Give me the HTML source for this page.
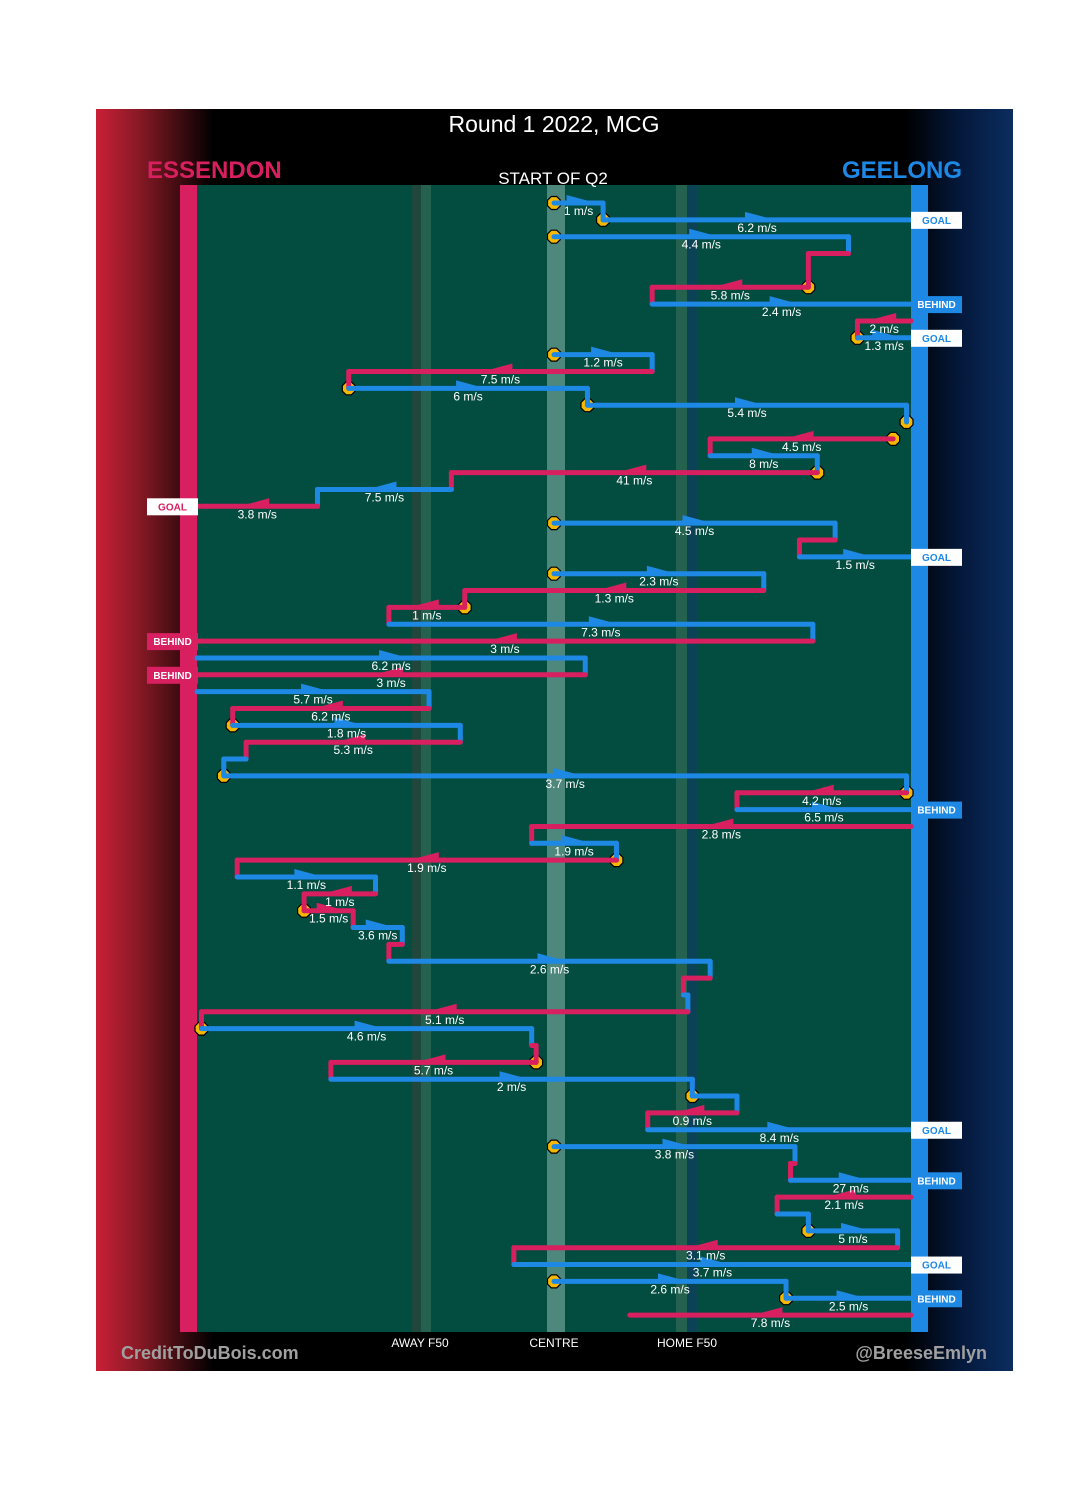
<!DOCTYPE html>
<html><head><meta charset="utf-8">
<style>
html,body{margin:0;padding:0;background:#fff;}
body{width:1080px;height:1495px;position:relative;overflow:hidden;font-family:"Liberation Sans Narrow","Liberation Sans",sans-serif;}
svg{position:absolute;left:0;top:0;}
</style></head>
<body>
<svg id="chart" width="1080" height="1495" viewBox="0 0 1080 1495" xmlns="http://www.w3.org/2000/svg">
<defs>
<linearGradient id="lg" x1="0" x2="1" y1="0" y2="0">
<stop offset="0" stop-color="#c91f37"/><stop offset="0.35" stop-color="#8a1a26"/><stop offset="1" stop-color="#000"/>
</linearGradient>
<linearGradient id="rg" x1="0" x2="1" y1="0" y2="0">
<stop offset="0" stop-color="#000"/><stop offset="0.5" stop-color="#04183a"/><stop offset="1" stop-color="#0b2d5f"/>
</linearGradient>
</defs>
<rect x="96" y="109" width="917" height="1262" fill="#000"/>
<rect x="96" y="109" width="118" height="1262" fill="url(#lg)"/>
<rect x="905" y="109" width="108" height="1262" fill="url(#rg)"/>
<rect x="197" y="185" width="714" height="1147" fill="#034d40"/>
<rect x="412" y="185" width="9" height="1147" fill="#1f473b"/>
<rect x="421" y="185" width="10" height="1147" fill="#24614f"/>
<rect x="547" y="185" width="18" height="1147" fill="#4e877b"/>
<rect x="676" y="185" width="11" height="1147" fill="#24614f"/>
<rect x="687" y="185" width="10" height="1147" fill="#0b4256"/>
<rect x="180" y="185" width="17" height="1147" fill="#d81f5f"/>
<rect x="911" y="185" width="17" height="1147" fill="#1e88e5"/>
<text x="554" y="132" text-anchor="middle" fill="#fff" font-size="23">Round 1 2022, MCG</text>
<text x="147" y="178" fill="#d81f5f" font-size="24" font-weight="bold">ESSENDON</text>
<text x="962" y="178" text-anchor="end" fill="#1e88e5" font-size="24" font-weight="bold">GEELONG</text>
<text x="553" y="184" text-anchor="middle" fill="#fff" font-size="17">START OF Q2</text>
<text x="420" y="1347" text-anchor="middle" fill="#fff" font-size="12">AWAY F50</text>
<text x="554" y="1347" text-anchor="middle" fill="#fff" font-size="12">CENTRE</text>
<text x="687" y="1347" text-anchor="middle" fill="#fff" font-size="12">HOME F50</text>
<text x="121" y="1359" fill="#a0a0a0" font-size="18" font-weight="bold">CreditToDuBois.com</text>
<text x="987" y="1359" text-anchor="end" fill="#a0a0a0" font-size="18" font-weight="bold">@BreeseEmlyn</text>
<g id="marks"></g>
</svg>
<script>
// field position in metres from Essendon goal (0) to Geelong goal (160)
const teams  = ["B","B","B","E","B","E","B","E","B","B","E","B","B","B","E","B","E","B","E","B","E","B","B","E","E","B","E","B","E","B","E","B","E","B","B","E","B","E","B","E","B","E","E","B","E","B","E","B","E","B","E","E","B","B","E","B","B","E","B","E","B","B","E","B","B","B","E"];
const rows   = [0,1,2,3,null,5,6,7,8,9,10,11,12,13,14,15,16,17,18,19,20,21,22,23,24,25,26,27,28,29,30,31,32,33,34,35,36,37,38,39,40,41,42,43,44,45,46,47,48,49,50,51,52,53,54,55,56,57,58,59,60,61,62,63,64,65,66];
const fromM  = [80,91,80,146,0,137,102,160,148,80,102,34,87.5,159,156,115,139,57,27,80,143,135,80,127,60,43,138,0,87,0,52,8,59,11,6,159,121,160,75,94,9,40,24,35,46,43,115,109,110,1,75,76,30,111,121,101,80,134,133,160,130,137,157,71,80,132,160];
const toM    = [91,160,146,137,0,102,160,148,160,102,34,87.5,159,159,115,139,57,27,0,143,135,160,127,60,43,138,0,87,0,52,8,59,11,6,159,121,160,75,94,9,40,24,35,46,43,115,109,110,1,75,76,30,111,121,101,160,134,133,160,130,137,157,71,160,132,160,97];
const speeds = ["1 m/s","6.2 m/s","4.4 m/s","","","5.8 m/s","2.4 m/s","2 m/s","1.3 m/s","1.2 m/s","7.5 m/s","6 m/s","5.4 m/s","","4.5 m/s","8 m/s","41 m/s","7.5 m/s","3.8 m/s","4.5 m/s","","1.5 m/s","2.3 m/s","1.3 m/s","1 m/s","7.3 m/s","3 m/s","6.2 m/s","3 m/s","5.7 m/s","6.2 m/s","1.8 m/s","5.3 m/s","","3.7 m/s","4.2 m/s","6.5 m/s","2.8 m/s","1.9 m/s","1.9 m/s","1.1 m/s","1 m/s","1.5 m/s","3.6 m/s","","2.6 m/s","","","5.1 m/s","4.6 m/s","","5.7 m/s","2 m/s","","0.9 m/s","8.4 m/s","3.8 m/s","","27 m/s","2.1 m/s","","5 m/s","3.1 m/s","3.7 m/s","2.6 m/s","2.5 m/s","7.8 m/s"];
const stoppage = [1,1,1,0,0,1,0,0,1,1,0,1,1,1,1,0,1,0,0,1,0,0,1,0,1,0,0,0,0,0,0,1,0,0,1,1,0,0,0,1,0,0,1,0,0,0,0,0,0,1,0,1,0,1,0,0,1,0,0,0,0,1,0,0,1,1,0];
const outcomes = ["","GOAL","","","","","BEHIND","","GOAL","","","","","","","","","","GOAL","","","GOAL","","","","","BEHIND","","BEHIND","","","","","","","","BEHIND","","","","","","","","","","","","","","","","","","","GOAL","","","BEHIND","","","","","GOAL","","BEHIND",""];

const X = m => 197 + m * (714 / 160);
const Y = r => 203 + r * 16.85;
const COL = {E:"#d81f5f", B:"#1e88e5"};
const NS = "http://www.w3.org/2000/svg";
const g = document.getElementById("marks");
function mk(tag, attrs){ const e=document.createElementNS(NS,tag); for(const k in attrs) e.setAttribute(k,attrs[k]); return e; }

const lineLayer = mk("g",{}); const markerLayer = mk("g",{}); const textLayer = mk("g",{});
g.appendChild(markerLayer); g.appendChild(lineLayer); g.appendChild(textLayer);

for (let i=0;i<teams.length;i++){
  if (rows[i]===null) continue;
  const y = Y(rows[i]), x1 = X(fromM[i]), x2 = X(toM[i]), c = COL[teams[i]];
  if (stoppage[i]){
    const r=7, pts=[];
    for(let k=0;k<8;k++){ const a=Math.PI/8+k*Math.PI/4; pts.push((x1+r*Math.cos(a)).toFixed(1)+","+(y+r*Math.sin(a)).toFixed(1)); }
    const oct = mk("polygon",{points:pts.join(" "),fill:"#f5b800",stroke:"#000","stroke-width":1.2});
    
    
    markerLayer.appendChild(oct);
  }
  if (Math.abs(x2-x1) > 0.5){
    const seg = mk("line",{x1:x1,y1:y,x2:x2,y2:y,stroke:c,"stroke-width":5,"stroke-linecap":"round"});
    
    
    lineLayer.appendChild(seg);
  }
  let j=i+1; while(j<teams.length && rows[j]===null) j++;
  if (j<teams.length && Math.abs(fromM[j]-toM[i])<0.6 && !outcomes[i]){
    const v = mk("line",{x1:x2,y1:y,x2:x2,y2:Y(rows[j]),stroke:c,"stroke-width":5,"stroke-linecap":"round"});
    
    
    lineLayer.appendChild(v);
  }
  if (speeds[i]){
    const mx=(x1+x2)/2, d = x2>x1?1:-1;
    const tri = mk("polygon",{points:`${mx+d*14},${y-1} ${mx-d*12},${y-8} ${mx-d*12},${y}`,fill:c});
    
    
    lineLayer.appendChild(tri);
    const t = mk("text",{x:mx,y:y+12,"text-anchor":"middle",fill:"#fff","font-size":12});
    
    
    t.textContent = speeds[i];
    textLayer.appendChild(t);
  }
  if (outcomes[i]){
    const right = toM[i] > 80;
    const goal = outcomes[i]==="GOAL";
    const bx = right ? 911 : 147, col = right ? COL.B : COL.E;
    const box = mk("rect",{x:bx,y:y-8,width:51,height:17,fill: goal ? "#fff" : col});
    
    
    textLayer.appendChild(box);
    const t = mk("text",{x:bx+25.5,y:y+4,"text-anchor":"middle",fill: goal ? col : "#fff","font-size":10,"font-weight":"bold","font-family":"Liberation Sans, sans-serif"});
    
    
    t.textContent = outcomes[i];
    textLayer.appendChild(t);
  }
}
</script>
</body></html>
